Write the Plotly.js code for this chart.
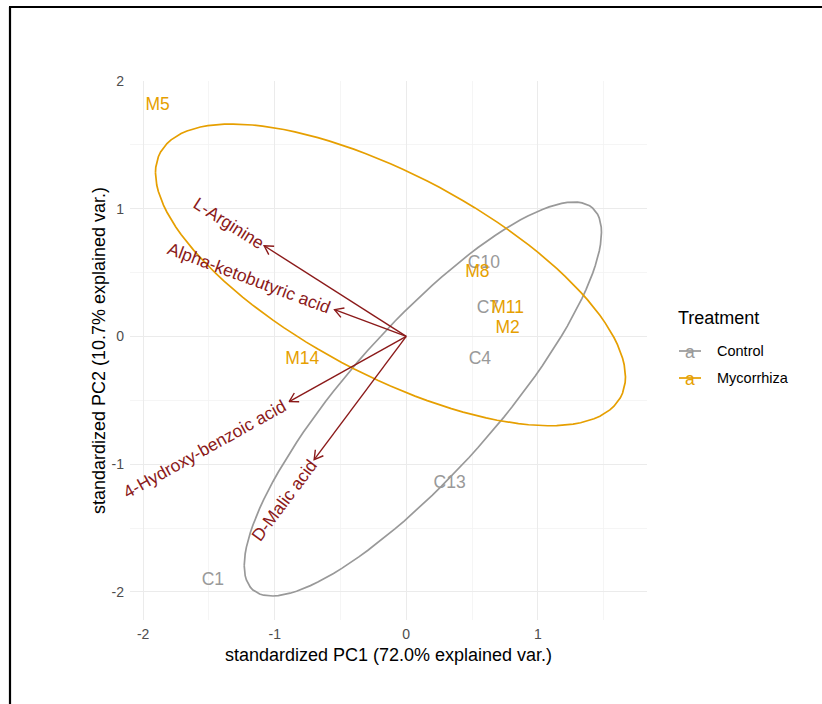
<!DOCTYPE html>
<html><head><meta charset="utf-8">
<script src="https://cdn.plot.ly/plotly-3.0.1.min.js"></script>
<style>html,body{margin:0;padding:0;background:#fff}#chart{width:822px;height:704px}</style>
</head><body><div id="chart"></div>
<script>
// ---- data ----
const ctrlLabels = ['C1','C4','C7','C10','C13'];
const ctrlPC1 = [-1.47, 0.56, 0.62, 0.59, 0.33];
const ctrlPC2 = [-1.91, -0.18, 0.22, 0.57, -1.15];
const mycoLabels = ['M2','M5','M8','M11','M14'];
const mycoPC1 = [0.77, -1.89, 0.54, 0.77, -0.79];
const mycoPC2 = [0.06, 1.81, 0.50, 0.22, -0.18];
const varNames = ['L-Arginine','Alpha-ketobutyric acid','4-Hydroxy-benzoic acid','D-Malic acid'];
const varPC1 = [-1.08, -0.545, -0.89, -0.70];
const varPC2 = [0.71, 0.21, -0.51, -0.965];
const groupNames = ['Control','Mycorrhiza'];
const xTickVals = [-2,-1,0,1];
const xTickText = ['-2','-1','0','1'];
const yTickVals = [-2,-1,0,1,2];
const yTickText = ['-2','-1','0','1','2'];
const ellipseProb = 0.68;

// ---- styling / geometry ----
const FONT = '"Liberation Sans", Arial, Helvetica, sans-serif';
const W = 822, H = 704;
const M = {l:130, r:175, t:81, b:84};
const XR = [-2.10, 1.83], YR = [-2.22, 2.0];
const PW = W - M.l - M.r, PH = H - M.t - M.b;
const SX = PW / (XR[1]-XR[0]), SY = PH / (YR[1]-YR[0]);
const COL_CTRL = '#999999', COL_MYCO = '#E69F00', COL_VAR = '#8B1A1A';
const LABEL_SIZE = 17.5;

function pxX(px){ return (px - M.l)/PW; }
function pxY(py){ return (H - M.b - py)/PH; }

function mean(a){ return a.reduce((s,v)=>s+v,0)/a.length; }
function ellipse(xs, ys){
  const mx = mean(xs), my = mean(ys), n = xs.length;
  let sxx=0, syy=0, sxy=0;
  for(let i=0;i<n;i++){ const dx=xs[i]-mx, dy=ys[i]-my; sxx+=dx*dx; syy+=dy*dy; sxy+=dx*dy; }
  sxx/=(n-1); syy/=(n-1); sxy/=(n-1);
  const a = Math.sqrt(sxx), b = sxy/a, c = Math.sqrt(syy - b*b);
  const ed = Math.sqrt(-2*Math.log(1-ellipseProb));
  const ex=[], ey=[];
  for(let k=0;k<=120;k++){
    const t = -Math.PI + 2*Math.PI*k/120;
    const ct=Math.cos(t), st=Math.sin(t);
    ex.push(mx + ed*(ct*a));
    ey.push(my + ed*(ct*b + st*c));
  }
  return {x:ex, y:ey};
}

const traces = [];
const eC = ellipse(ctrlPC1, ctrlPC2), eM = ellipse(mycoPC1, mycoPC2);
traces.push({x:eC.x, y:eC.y, mode:'lines', line:{color:COL_CTRL, width:1.7}, hoverinfo:'skip', showlegend:false});
traces.push({x:eM.x, y:eM.y, mode:'lines', line:{color:COL_MYCO, width:1.7}, hoverinfo:'skip', showlegend:false});

// arrows
const ax=[], ay=[];
const HEAD = 10, HANG = 30*Math.PI/180;
for(let i=0;i<varNames.length;i++){
  const x=varPC1[i], y=varPC2[i];
  ax.push(0, x, null); ay.push(0, y, null);
  const Px=x*SX, Py=y*SY, L=Math.hypot(Px,Py), ux=Px/L, uy=Py/L;
  const w1x = Px - HEAD*(ux*Math.cos(HANG) - uy*Math.sin(HANG));
  const w1y = Py - HEAD*(ux*Math.sin(HANG) + uy*Math.cos(HANG));
  const w2x = Px - HEAD*(ux*Math.cos(-HANG) - uy*Math.sin(-HANG));
  const w2y = Py - HEAD*(ux*Math.sin(-HANG) + uy*Math.cos(-HANG));
  ax.push(w1x/SX, x, w2x/SX, null); ay.push(w1y/SY, y, w2y/SY, null);
}
traces.push({x:ax, y:ay, mode:'lines', line:{color:COL_VAR, width:1.4}, hoverinfo:'skip', showlegend:false, connectgaps:false});

// sample labels
traces.push({x:ctrlPC1, y:ctrlPC2, text:ctrlLabels, mode:'text', textposition:'middle center',
  textfont:{family:FONT, size:LABEL_SIZE, color:COL_CTRL}, cliponaxis:false, showlegend:false, hoverinfo:'text'});
traces.push({x:mycoPC1, y:mycoPC2, text:mycoLabels, mode:'text', textposition:'middle center',
  textfont:{family:FONT, size:LABEL_SIZE, color:COL_MYCO}, cliponaxis:false, showlegend:false, hoverinfo:'text'});

// variable labels
const cv = document.createElement('canvas').getContext('2d');
cv.font = LABEL_SIZE + 'px "Liberation Sans"';
const annotations = [];
for(let i=0;i<varNames.length;i++){
  const x=varPC1[i], y=varPC2[i];
  const Px=x*SX, Py=y*SY, L=Math.hypot(Px,Py), ux=Px/L, uy=Py/L;
  const w = cv.measureText(varNames[i]).width;
  const d = 0.53*w;
  const ang = Math.atan(Py/Px)*180/Math.PI;
  annotations.push({x:x, y:y, xref:'x', yref:'y', text:varNames[i], showarrow:false,
    xanchor:'center', yanchor:'middle', textangle:-ang, xshift:ux*d, yshift:uy*d,
    font:{family:FONT, size:LABEL_SIZE, color:COL_VAR}});
}

// custom legend
const legTitleY = 318, legRows = [351, 378], legCols = [COL_CTRL, COL_MYCO];
annotations.push({xref:'paper', yref:'paper', x:pxX(676), y:pxY(legTitleY), xanchor:'left', yanchor:'middle',
  text:'Treatment', showarrow:false, font:{family:FONT, size:18, color:'#000000'}});
const shapes = [];
for(let i=0;i<groupNames.length;i++){
  shapes.push({type:'line', xref:'paper', yref:'paper', x0:pxX(679), x1:pxX(701), y0:pxY(legRows[i]), y1:pxY(legRows[i]),
    line:{color:legCols[i], width:1.7}});
  annotations.push({xref:'paper', yref:'paper', x:pxX(690), y:pxY(legRows[i]+1), xanchor:'center', yanchor:'middle',
    text:'a', showarrow:false, font:{family:FONT, size:LABEL_SIZE, color:legCols[i]}});
  annotations.push({xref:'paper', yref:'paper', x:pxX(715), y:pxY(legRows[i]), xanchor:'left', yanchor:'middle',
    text:groupNames[i], showarrow:false, font:{family:FONT, size:14.5, color:'#000000'}});
}
// frame lines (left and top)
shapes.push({type:'line', xref:'paper', yref:'paper', x0:pxX(10), x1:pxX(10), y0:pxY(7), y1:pxY(H), line:{color:'#000', width:2.2}});
shapes.push({type:'line', xref:'paper', yref:'paper', x0:pxX(9), x1:pxX(W), y0:pxY(7), y1:pxY(7), line:{color:'#000', width:2.2}});

const axisCommon = {showline:false, zeroline:false, ticks:'', showgrid:true, gridcolor:'#EBEBEB', gridwidth:1.1,
  tickfont:{family:FONT, size:14, color:'#4D4D4D'}, automargin:false};
const layout = {
  width:W, height:H, margin:M, paper_bgcolor:'#ffffff', plot_bgcolor:'#ffffff', showlegend:false,
  font:{family:FONT},
  xaxis: Object.assign({}, axisCommon, {range:XR, tickmode:'array', tickvals:xTickVals, ticktext:xTickText,
    minor:{tickmode:'linear', tick0:0.5, dtick:1, showgrid:true, gridcolor:'#F3F3F3', gridwidth:0.8},
    ticklabelstandoff:4,
    title:{text:'standardized PC1 (72.0% explained var.)', font:{family:FONT, size:18, color:'#000'}, standoff:7}}),
  yaxis: Object.assign({}, axisCommon, {range:YR, tickmode:'array', tickvals:yTickVals, ticktext:yTickText,
    minor:{tickmode:'linear', tick0:0.5, dtick:1, showgrid:true, gridcolor:'#F3F3F3', gridwidth:0.8},
    ticklabelstandoff:5,
    title:{text:'standardized PC2 (10.7% explained var.)', font:{family:FONT, size:18, color:'#000'}, standoff:1}}),
  annotations: annotations,
  shapes: shapes
};
Plotly.newPlot('chart', traces, layout, {displayModeBar:false, staticPlot:true});
</script></body></html>
